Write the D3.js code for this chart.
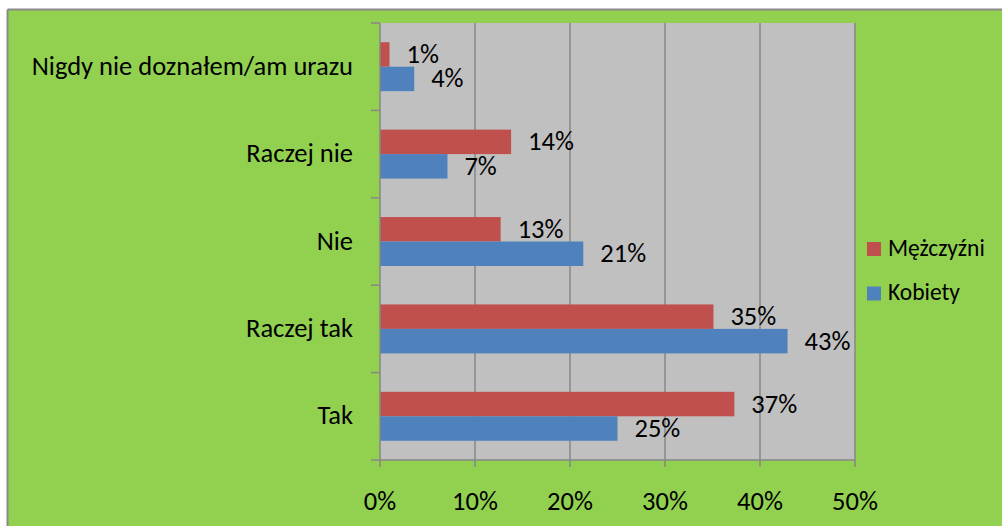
<!DOCTYPE html>
<html>
<head>
<meta charset="utf-8">
<script src="https://cdn.jsdelivr.net/npm/d3@7/dist/d3.min.js"></script>
<style>
  html, body { margin: 0; padding: 0; background: #fff; }
  svg { display: block; }
  text { font-family: Carlito, "Liberation Sans", Arial, sans-serif; fill: #000; }
</style>
</head>
<body>
<svg id="chart" width="1002" height="526"></svg>
<script>
const categories = ["Nigdy nie doznałem/am urazu", "Raczej nie", "Nie", "Raczej tak", "Tak"];
const seriesNames = ["Mężczyźni", "Kobiety"];
const menValues = [1.0, 13.8, 12.7, 35.1, 37.3];
const womenValues = [3.6, 7.1, 21.4, 42.9, 25.0];
const xTicks = [0, 10, 20, 30, 40, 50];
const colors = ["#c0504d", "#4f81bd"];

const svg = d3.select("#chart");
const W = 1002, H = 526;
const plot = { left: 380, right: 855, top: 23, bottom: 460 };
const FS = 26.5;

// chart background + border
svg.append("rect").attr("x", 8).attr("y", 10).attr("width", W - 8).attr("height", H - 10).attr("fill", "#92d050");
svg.append("line").attr("x1", 7.5).attr("x2", W).attr("y1", 9.5).attr("y2", 9.5).attr("stroke", "#8a8a8a").attr("stroke-width", 2);
svg.append("line").attr("x1", 7.5).attr("x2", 7.5).attr("y1", 9.5).attr("y2", H).attr("stroke", "#8a8a8a").attr("stroke-width", 2);

// plot area
svg.append("rect").attr("x", plot.left).attr("y", plot.top)
  .attr("width", plot.right - plot.left).attr("height", plot.bottom - plot.top).attr("fill", "#c0c0c0");

const x = d3.scaleLinear().domain([0, 50]).range([plot.left, plot.right]);
const pad = 0.44;
const y = d3.scaleBand().domain(categories).range([plot.top, plot.bottom]).paddingInner(pad).paddingOuter(pad / 2);
const inner = d3.scaleBand().domain(seriesNames).range([0, y.bandwidth()]);

const gridColor = "#878787";
// gridlines
svg.append("g").selectAll("line").data(xTicks.slice(1)).join("line")
  .attr("x1", d => x(d)).attr("x2", d => x(d))
  .attr("y1", plot.top).attr("y2", plot.bottom + 7)
  .attr("stroke", gridColor).attr("stroke-width", 1.5);

// bars
const data = categories.map((c, i) => ({ c, vals: [menValues[i], womenValues[i]] }));
const groups = svg.append("g").selectAll("g").data(data).join("g")
  .attr("transform", d => `translate(0,${y(d.c)})`);
groups.selectAll("rect").data(d => d.vals.map((v, j) => ({ v, s: seriesNames[j], j }))).join("rect")
  .attr("x", x(0)).attr("y", d => inner(d.s))
  .attr("width", d => x(d.v) - x(0)).attr("height", inner.bandwidth())
  .attr("fill", d => colors[d.j]);
groups.selectAll("text").data(d => d.vals.map((v, j) => ({ v, s: seriesNames[j] }))).join("text")
  .attr("x", d => x(d.v) + 17).attr("y", d => inner(d.s) + inner.bandwidth() / 2 + 8.5)
  .attr("font-size", FS).text(d => Math.round(d.v) + "%");

// axes lines
svg.append("line").attr("x1", plot.left).attr("x2", plot.left).attr("y1", plot.top).attr("y2", plot.bottom + 7)
  .attr("stroke", gridColor).attr("stroke-width", 1.5);
svg.append("line").attr("x1", plot.left - 9).attr("x2", plot.right).attr("y1", plot.bottom).attr("y2", plot.bottom)
  .attr("stroke", gridColor).attr("stroke-width", 1.5);

// y tick marks at band boundaries
const boundaries = categories.map(c => y(c) - y.step() * pad / 2);
svg.append("g").selectAll("line").data(boundaries).join("line")
  .attr("x1", plot.left - 9).attr("x2", plot.left).attr("y1", d => d).attr("y2", d => d)
  .attr("stroke", gridColor).attr("stroke-width", 1.5);

// y labels
svg.append("g").selectAll("text").data(categories).join("text")
  .attr("x", plot.left - 27).attr("y", d => y(d) + y.bandwidth() / 2 + 8)
  .attr("text-anchor", "end").attr("font-size", FS).text(d => d);

// x labels
svg.append("g").selectAll("text").data(xTicks).join("text")
  .attr("x", d => x(d)).attr("y", 510).attr("text-anchor", "middle").attr("font-size", FS)
  .text(d => d + "%");

// legend
const legend = svg.append("g").selectAll("g").data(seriesNames).join("g")
  .attr("transform", (d, i) => `translate(867,${242 + i * 44.5})`);
legend.append("rect").attr("width", 14).attr("height", 14).attr("fill", (d, i) => colors[i]);
legend.append("text").attr("x", 21).attr("y", 13.5).attr("font-size", 23.5).text(d => d);
</script>
</body>
</html>
